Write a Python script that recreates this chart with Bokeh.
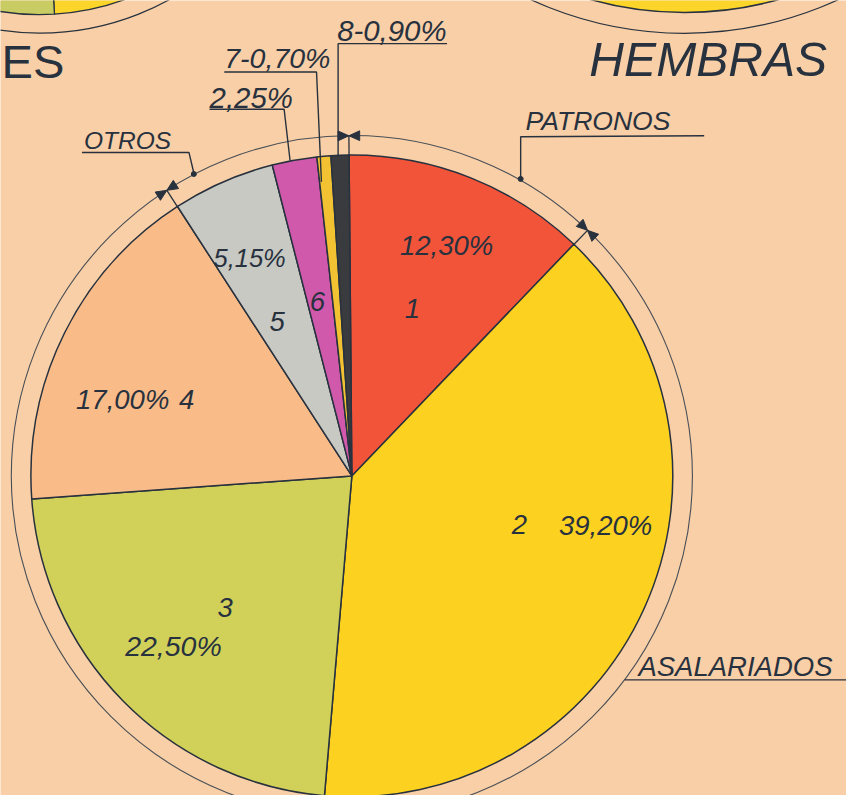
import math
from bokeh.plotting import figure
from bokeh.models import Range1d, ColumnDataSource
from bokeh.embed import file_html
from bokeh.resources import INLINE
from bokeh.core.properties import value

# ---------------- data ----------------
slice_ids = ["1", "2", "3", "4", "5", "6", "7", "8"]
shares = [12.30, 39.20, 22.50, 17.00, 5.15, 2.25, 0.70, 0.90]
share_labels = ["12,30%", "39,20%", "22,50%", "17,00%", "5,15%", "2,25%", "7-0,70%", "8-0,90%"]
slice_colors = ["#F2543A", "#FDD11F", "#D1D15A", "#F9BC89", "#C8C9C3", "#D159AC", "#F3C232", "#3A3B3E"]
group_names = ["PATRONOS", "ASALARIADOS", "OTROS"]
group_bounds = [0, 1, 4]          # slice index where each group starts
titles = ["ES", "HEMBRAS"]

# ---------------- layout ----------------
W, H = 846, 795
IMG_W, IMG_H = 862, 811
SC = W / IMG_W
BG = "#F8CFA6"
INK = "#28313E"
FONT = "Liberation Sans"
BASE_FIX = 0.38   # text placement correction (fraction of font size)


def Y(y_img):
    return IMG_H - y_img


CX, CY = 358, Y(485)
R_PIE, R_OUT = 327, 347
THETA0 = -0.5  # degrees, clockwise from 12 o'clock

p = figure(width=W, height=H, output_backend="svg", toolbar_location=None,
           x_range=Range1d(0, IMG_W), y_range=Range1d(0, IMG_H),
           min_border=0, background_fill_color=BG, border_fill_color=BG,
           outline_line_color=None)
p.axis.visible = False
p.grid.visible = False

# ---- neighbouring pies (cropped at top) ----
TL = (40, Y(-239))
p.circle(x=[TL[0]], y=[TL[1]], radius=272, fill_color=None, line_color=INK, line_width=1.2)
p.wedge(x=[TL[0]] * 2, y=[TL[1]] * 2, radius=253,
        start_angle=[math.radians(-86.6), math.radians(210)],
        end_angle=[math.radians(210), math.radians(273.4)],
        fill_color=["#FCD52A", "#C9CC62"], line_color=INK, line_width=1.3)
TR = (697, Y(-342))
p.circle(x=[TR[0]], y=[TR[1]], radius=375, fill_color=None, line_color=INK, line_width=1.2)
p.circle(x=[TR[0]], y=[TR[1]], radius=354, fill_color="#FCD52A", line_color=INK, line_width=1.5)

# ---- main pie ----
starts, ends = [], []
cum = 0.0
for s in shares:
    t1 = THETA0 + 3.6 * cum
    cum += s
    t2 = THETA0 + 3.6 * cum
    starts.append(math.radians(90 - t1))
    ends.append(math.radians(90 - t2))

src = ColumnDataSource(dict(x=[CX] * len(shares), y=[CY] * len(shares),
                            start=starts, end=ends, color=slice_colors))
p.circle(x=[CX], y=[CY], radius=R_OUT, fill_color=None, line_color="#4A4F57", line_width=1.1)
p.wedge(x="x", y="y", radius=R_PIE, start_angle="start", end_angle="end",
        direction="clock", fill_color="color", line_color=INK, line_width=1.5, source=src)

# group boundary marks (bow ties) on outer circle
bx, by = [], []
rx0, ry0, rx1, ry1 = [], [], [], []
for gi in group_bounds:
    th = math.radians(THETA0 + 3.6 * sum(shares[:gi]))
    sn, cs = math.sin(th), math.cos(th)
    px, py = CX + R_OUT * sn, CY + R_OUT * cs
    tx, ty = cs, -sn
    nx, ny = sn, cs
    for sgn in (1, -1):
        bx.append([px, px + sgn * 11 * tx + 5 * nx, px + sgn * 11 * tx - 5 * nx])
        by.append([py, py + sgn * 11 * ty + 5 * ny, py + sgn * 11 * ty - 5 * ny])
    rx0.append(CX + R_PIE * sn); ry0.append(CY + R_PIE * cs)
    rx1.append(px); ry1.append(py)
p.segment(x0=rx0, y0=ry0, x1=rx1, y1=ry1, line_color=INK, line_width=1.3)
p.patches(xs=bx, ys=by, fill_color=INK, line_color=INK, line_width=1)

# leader lines
leaders = [
    ([455, 344, 344], [44, 44, 158]),          # 8
    ([228, 322, 327], [73, 73, 185]),          # 7
    ([213, 289, 295], [111, 111, 163]),        # 6 (2,25%)
    ([83, 192, 197], [155, 155, 176]),         # OTROS
    ([717, 530, 530], [138, 139, 182]),        # PATRONOS
    ([636, 862], [693, 693]),                  # ASALARIADOS
]
p.multi_line(xs=[l[0] for l in leaders], ys=[[Y(v) for v in l[1]] for l in leaders],
             line_color=INK, line_width=1.4)
p.scatter(x=[197, 530], y=[Y(177), Y(182)], size=5, color=INK)


def label(txt, x, y_base, size, italic=True, align="left"):
    p.text(x=[x], y=[Y(y_base - BASE_FIX * size)], text=[txt], text_font=value(FONT),
           text_font_size=f"{size * SC:.1f}px", text_font_style="italic" if italic else "normal",
           text_color=INK, text_align=align, text_baseline="alphabetic")


# titles
label(titles[0], 1, 80, 48, italic=False)
label(titles[1], 600, 78, 49)

# group names
label(group_names[0], 535, 133, 27)
label(group_names[1], 650, 690, 28)
label(group_names[2], 85, 152, 25)

# percentages / slice numbers
label(share_labels[7], 343, 42, 30)
label(share_labels[6], 228, 70, 29)
label(share_labels[5], 213, 110, 30)
label(share_labels[0], 407, 261, 28)
label(slice_ids[0], 412, 325, 28)
label(slice_ids[1], 521, 545, 28)
label(share_labels[1], 569, 546, 28)
label(slice_ids[2], 221, 630, 28)
label(share_labels[2], 127, 670, 29)
label(share_labels[3], 77, 418, 28)
label(slice_ids[3], 182, 418, 28)
label(share_labels[4], 217, 273, 26)
label(slice_ids[4], 274, 338, 28)
label(slice_ids[5], 315, 318, 28)

html = file_html(p, INLINE)
html = html.replace("<body>", f'<body style="background-color:{BG}">', 1)
open("out.html", "w").write(html)
